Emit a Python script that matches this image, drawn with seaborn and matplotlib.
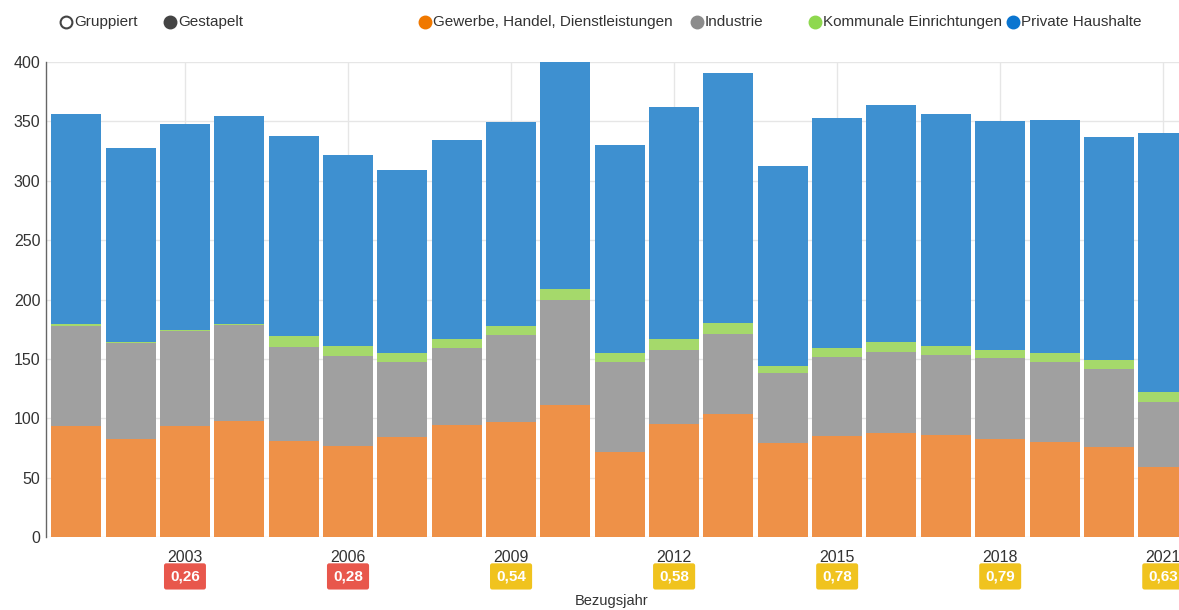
import numpy as np
import pandas as pd
import matplotlib.pyplot as plt
import matplotlib.transforms as mtransforms
from matplotlib.lines import Line2D
import seaborn as sns

# Daten
jahre = list(range(2001, 2022))
gewerbe = [93.5, 82.5, 93.5, 97.7, 80.8, 76.6, 84.2, 94.3, 96.8, 111.0, 71.6,
           95.0, 103.6, 79.0, 85.0, 87.6, 86.0, 82.5, 80.0, 75.8, 59.0]
industrie = [84.5, 80.5, 80.0, 80.8, 79.2, 75.8, 62.8, 64.7, 73.2, 88.6, 75.4,
             62.5, 67.4, 59.0, 66.6, 68.2, 67.3, 68.2, 67.4, 65.7, 54.7]
kommunal = [1.0, 1.0, 1.0, 1.0, 9.0, 8.6, 8.0, 7.7, 7.7, 9.2, 8.0,
            9.2, 9.0, 6.0, 7.4, 8.2, 7.7, 6.8, 7.6, 7.5, 8.3]
haushalte = [177.0, 163.6, 173.3, 175.0, 168.7, 160.7, 154.0, 167.6, 171.8, 191.2, 175.0,
             195.3, 210.7, 168.4, 193.8, 199.8, 195.2, 192.8, 196.2, 187.8, 218.2]

serien = ['Gewerbe, Handel, Dienstleistungen', 'Industrie',
          'Kommunale Einrichtungen', 'Private Haushalte']
farben = ['#EE9148', '#A0A0A0', '#A5D96B', '#3E90D0']
legenden_farben = ['#F07800', '#8C8C8C', '#8ED84E', '#0A75D0']

badge_jahre = [2003, 2006, 2009, 2012, 2015, 2018, 2021]
badge_werte = ['0,26', '0,28', '0,54', '0,58', '0,78', '0,79', '0,63']
badge_farben = ['#E8574C', '#E8574C', '#F0C31E', '#F0C31E', '#F0C31E', '#F0C31E', '#F0C31E']

df = pd.DataFrame({'Jahr': [str(j) for j in jahre],
                   serien[0]: gewerbe, serien[1]: industrie,
                   serien[2]: kommunal, serien[3]: haushalte})
kumuliert = df[serien].cumsum(axis=1)

sns.set_theme(style="white")
plt.rcParams['font.family'] = ['Liberation Sans', 'DejaVu Sans']

fig = plt.figure(figsize=(11.79, 6.10), dpi=100)
ax = fig.add_axes([46 / 1179, 73 / 610, 1 - 46 / 1179, 475 / 610])

# gestapelte Balken: von hinten nach vorne zeichnen
for serie, farbe in reversed(list(zip(serien, farben))):
    sns.barplot(x=df['Jahr'], y=kumuliert[serie], color=farbe, saturation=1,
                width=0.92, errorbar=None, linewidth=0, edgecolor='none', ax=ax, zorder=2)

ax.set_ylim(0, 400)
ax.set_xlim(-0.557, 20.29)
ax.set_yticks(range(0, 401, 50))
tick_pos = [jahre.index(j) for j in badge_jahre]
ax.set_xticks(tick_pos)
ax.set_xticklabels([str(j) for j in badge_jahre])
ax.tick_params(axis='x', length=0, pad=9, labelsize=11.5, labelcolor='#333333')
ax.tick_params(axis='y', length=0, pad=4, labelsize=11.5, labelcolor='#333333')
ax.set_xlabel('')
ax.set_ylabel('')

ax.grid(axis='both', color='#E6E6E6', linewidth=1)
ax.set_axisbelow(True)
for s in ['top', 'right', 'bottom']:
    ax.spines[s].set_visible(False)
ax.spines['left'].set_color('#666666')
ax.spines['left'].set_linewidth(1)

# Kennzahlen unter den Jahren
trans = mtransforms.blended_transform_factory(ax.transData, ax.transAxes)
for pos, wert, farbe in zip(tick_pos, badge_werte, badge_farben):
    ax.text(pos, -0.083, wert, transform=trans, ha='center', va='center',
            fontsize=11, fontweight='bold', color='white', clip_on=False,
            bbox=dict(boxstyle='round,pad=0.4,rounding_size=0.15', fc=farbe, ec='none'))

fig.text(612 / 1179, 1 - 601 / 610, 'Bezugsjahr', ha='center', va='center',
         fontsize=10.5, color='#333333')

# Legende oben
def legend_item(x_marker, x_text, text, face, edge):
    y = 1 - 22 / 610
    fig.add_artist(Line2D([x_marker / 1179], [y], marker='o', markersize=8.5,
                          markerfacecolor=face, markeredgecolor=edge, markeredgewidth=1.5,
                          transform=fig.transFigure, linestyle='none'))
    fig.text(x_text / 1179, y, text, ha='left', va='center', fontsize=11, color='#333333')

legend_item(66, 74, 'Gruppiert', 'white', '#444444')
legend_item(170, 178, 'Gestapelt', '#444444', '#444444')
legend_x = [(425, 433), (697, 705), (815, 823), (1013, 1021)]
for (xm, xt), serie, farbe in zip(legend_x, serien, legenden_farben):
    legend_item(xm, xt, serie, farbe, farbe)

fig.savefig('out.png', dpi=100)
